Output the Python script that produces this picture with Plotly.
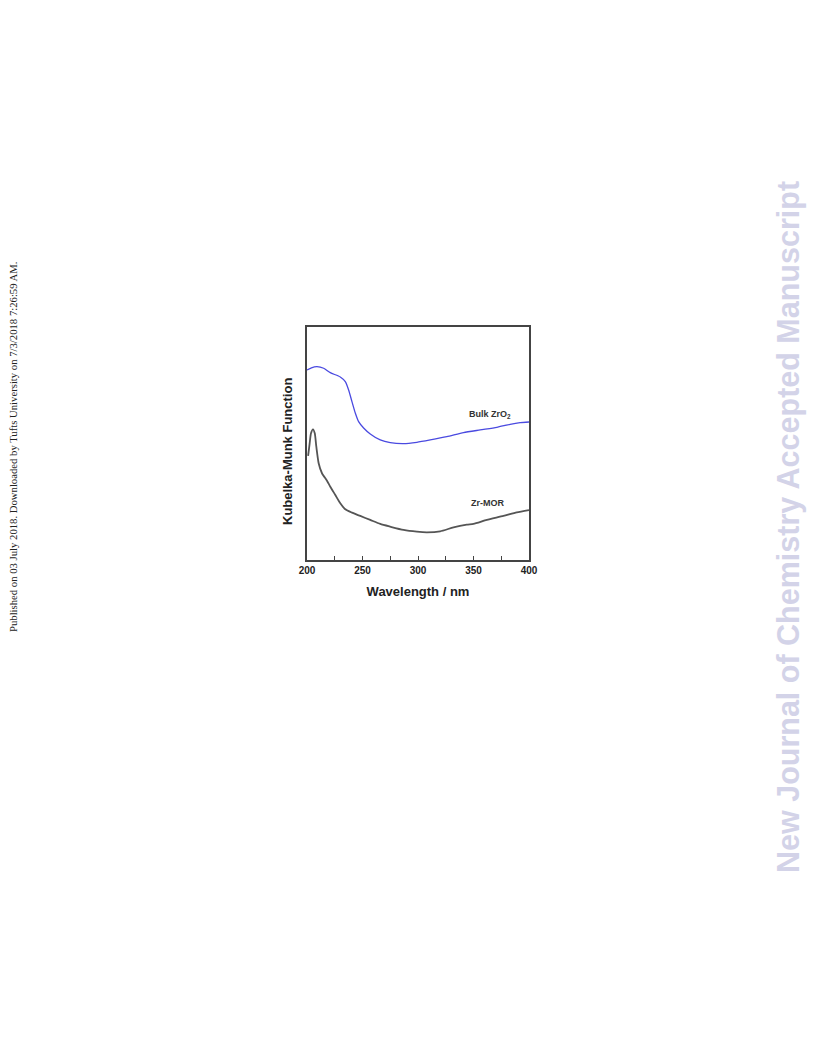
import plotly.graph_objects as go

# Bulk ZrO2 (blue)
bulk_x = [200, 204, 209, 215, 221, 230, 234.5, 237.5, 240.5, 243.5, 246.5, 251, 257, 266, 275, 287,
          299, 311, 326, 341, 356, 371, 383, 392, 400]
bulk_y = [2.088, 2.112, 2.124, 2.107, 2.058, 2.011, 1.959, 1.868, 1.740, 1.615, 1.520, 1.451, 1.385,
          1.319, 1.289, 1.278, 1.293, 1.319, 1.355, 1.399, 1.429, 1.458, 1.491, 1.509, 1.516]

# Zr-MOR (grey)
mor_x = [201, 202.4, 203.6, 205.4, 207, 208.4, 210.5, 213.5, 218, 221, 225.5, 230, 234.5, 240.5,
         248, 257, 266, 275, 287, 299, 308, 320, 332, 344, 350, 362, 377, 389, 400]
mor_y = [1.143, 1.282, 1.392, 1.436, 1.392, 1.245, 1.063, 0.953, 0.871, 0.805, 0.714, 0.623,
         0.557, 0.520, 0.484, 0.440, 0.396, 0.366, 0.330, 0.311, 0.304, 0.315, 0.359, 0.388,
         0.396, 0.440, 0.484, 0.524, 0.549]

x_ticks = [200, 250, 300, 350, 400]

FONT = "Liberation Sans"

# page has an 8px body margin, so the figure is 800x1040
W, H = 800, 1040
OFF = 8
PL, PR, PT, PB = 307 - OFF, 529 - OFF, 327 - OFF, 560 - OFF


def px(xp):
    return (xp - OFF - PL) / (PR - PL)


def py(yp):
    return (PB - (yp - OFF)) / (PB - PT)


fig = go.Figure()
fig.add_trace(go.Scatter(x=bulk_x, y=bulk_y, mode="lines",
                         line=dict(color="#4a4ae0", width=1.3, shape="spline", smoothing=0.6),
                         showlegend=False))
fig.add_trace(go.Scatter(x=mor_x, y=mor_y, mode="lines",
                         line=dict(color="#555555", width=1.8, shape="spline", smoothing=0.6),
                         showlegend=False))

fig.add_annotation(x=365, y=1.60, text="<b>Bulk ZrO<sub>2</sub></b>", showarrow=False,
                   font=dict(family=FONT, size=9, color="#333333"))
fig.add_annotation(x=363, y=0.626, text="<b>Zr-MOR</b>", showarrow=False,
                   font=dict(family=FONT, size=9, color="#333333"))

# y-axis title (sits slightly below the plot centre in the reference)
fig.add_annotation(xref="paper", yref="paper", x=px(287), y=py(452), xanchor="center", yanchor="middle",
                   text="<b>Kubelka-Munk Function</b>", textangle=-90, showarrow=False,
                   font=dict(family=FONT, size=13, color="#222222"))

# page texts
fig.add_annotation(xref="paper", yref="paper", x=px(13), y=py(447), xanchor="center", yanchor="middle",
                   text="Published on 03 July 2018. Downloaded by Tufts University on 7/3/2018 7:26:59 AM.",
                   textangle=-90, showarrow=False,
                   font=dict(family="Liberation Serif", size=10.7, color="#222222"))
fig.add_annotation(xref="paper", yref="paper", x=px(788), y=py(527), xanchor="center", yanchor="middle",
                   text="<b>New Journal of Chemistry Accepted Manuscript</b>",
                   textangle=-90, showarrow=False,
                   font=dict(family=FONT, size=30.5, color="#d3d3e8"))

fig.update_layout(
    width=W, height=H,
    margin=dict(l=PL, r=W - PR, t=PT, b=H - PB),
    paper_bgcolor="white", plot_bgcolor="white",
    font=dict(family=FONT, color="#222222"),
)
fig.update_xaxes(
    range=[200, 400], tickvals=x_ticks, ticktext=[f"<b>{v}</b>" for v in x_ticks],
    tickfont=dict(family=FONT, size=10, color="#222222"),
    ticks="inside", ticklen=4, tickcolor="#444444", tickwidth=1,
    minor=dict(dtick=25, tick0=200, ticks="inside", ticklen=4, tickcolor="#444444"),
    showline=True, linecolor="#444444", linewidth=1.5, mirror=True, showgrid=False, zeroline=False,
    title=dict(text="<b>Wavelength / nm</b>", font=dict(family=FONT, size=13, color="#222222"), standoff=12),
)
fig.update_yaxes(
    range=[0, 2.56], tickvals=[0.571, 1.571], showticklabels=False,
    ticks="inside", ticklen=3, tickcolor="white", tickwidth=2,
    showline=True, linecolor="#444444", linewidth=1.5, mirror=True, showgrid=False, zeroline=False,
)

fig.write_html("out.html")
